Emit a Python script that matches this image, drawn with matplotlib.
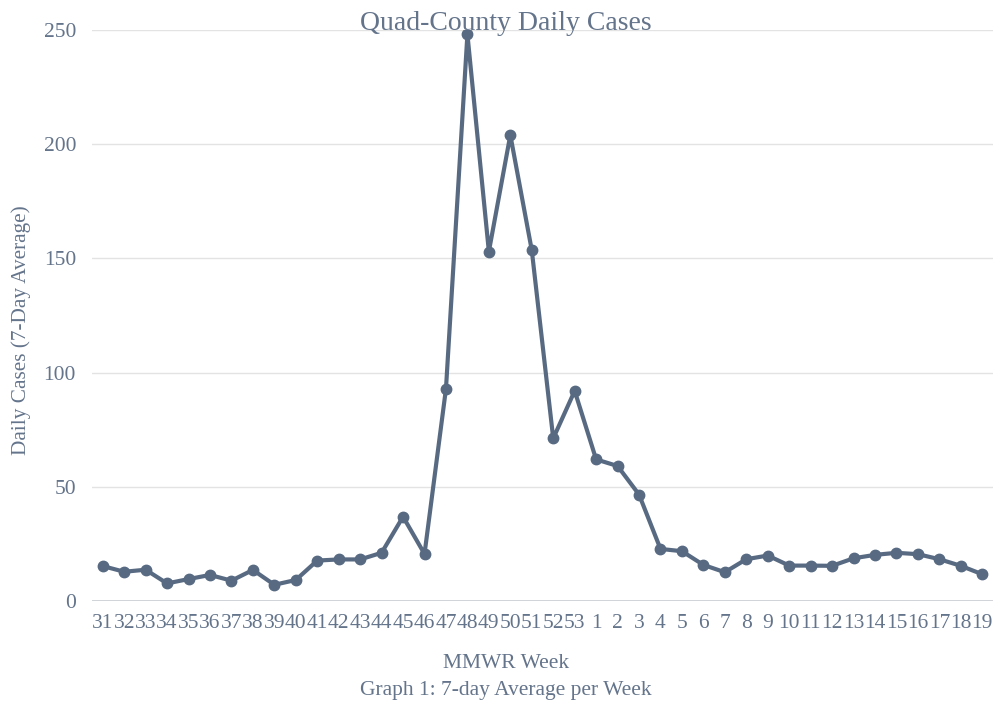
import matplotlib
matplotlib.use("Agg")
import matplotlib.pyplot as plt

weeks = [str(w) for w in range(31, 54)] + [str(w) for w in range(1, 20)]
cases = [15.3, 12.8, 13.7, 7.7, 9.6, 11.4, 8.9, 13.6, 7.1, 9.2,
         17.7, 18.2, 18.2, 21.1, 36.9, 20.6, 92.9, 248.1, 153.0, 204.0,
         153.6, 71.2, 92.0,
         62.0, 59.1, 46.6, 22.8, 21.8, 15.8, 12.6, 18.3, 19.9, 15.5,
         15.5, 15.4, 18.7, 20.2, 21.1, 20.5, 18.3, 15.4, 11.7]
yticks = [0, 50, 100, 150, 200, 250]

line_color = "#586a82"
text_color = "#64748b"

plt.rcParams['font.family'] = ['Liberation Serif', 'DejaVu Serif']

fig = plt.figure(figsize=(10.02, 7.06), dpi=100)
ax = fig.add_axes([92/1002, 1 - 601/706, (993-92)/1002, (601-30)/706])

x = list(range(len(weeks)))
ax.plot(x, cases, color=line_color, lw=3.0, marker='o', ms=7.5, zorder=3,
        solid_joinstyle='round')

ax.set_xlim(-0.5, len(weeks) - 0.5)
ax.set_ylim(0, 250)
ax.set_yticks(yticks)
ax.set_yticklabels([str(t) for t in yticks])
ax.set_xticks(x)
ax.set_xticklabels(weeks)
for s in ax.spines.values():
    s.set_visible(False)
ax.grid(axis='y', color='#e3e3e3', lw=1)
ax.axhline(0, color='#c9cdd3', lw=1.2, zorder=2)
ax.set_axisbelow(True)
ax.tick_params(axis='both', length=0, labelsize=15.5, colors=text_color)
ax.tick_params(axis='x', pad=9)
ax.tick_params(axis='y', pad=11.5)

fig.text(21/1002, 1 - 330/706, "Daily Cases (7-Day Average)", ha='center', va='center',
         rotation=90, fontsize=15.3, color=text_color)
fig.text(506/1002, 1 - 23/706, "Quad-County Daily Cases", ha='center', va='center',
         fontsize=20, color=text_color)
fig.text(506/1002, 1 - 663/706, "MMWR Week", ha='center', va='center',
         fontsize=15.5, color=text_color)
fig.text(506/1002, 1 - 690/706, "Graph 1: 7-day Average per Week", ha='center', va='center',
         fontsize=15.5, color=text_color)

fig.savefig("out.png", dpi=100)
